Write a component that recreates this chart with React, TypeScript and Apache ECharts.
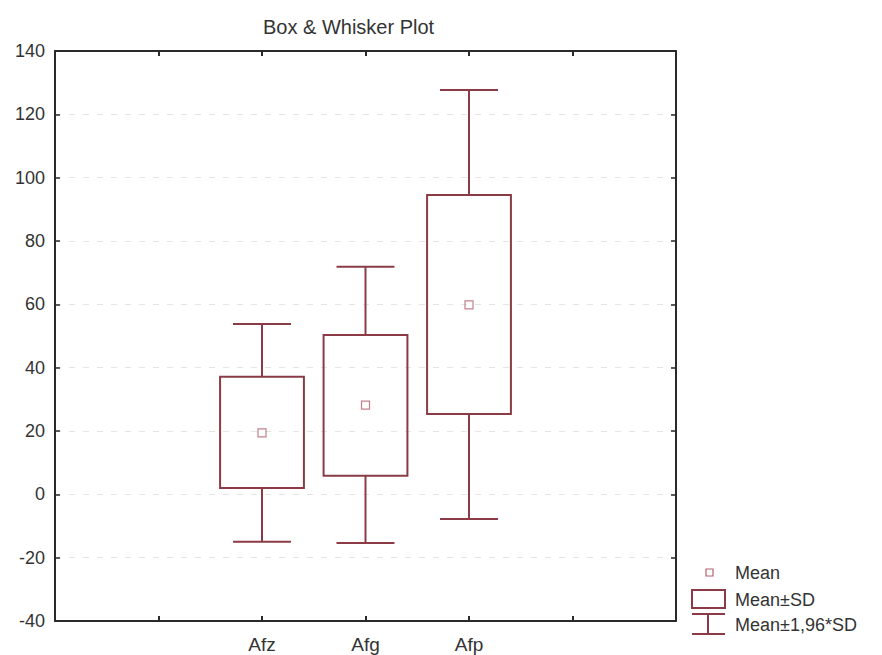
import React, { useEffect, useRef } from "react";
import * as echarts from "echarts";

const categories = ["", "", "Afz", "Afg", "Afp", "", ""];
const groups = ["Afz", "Afg", "Afp"];
const meanValues = [19.4, 28.2, 59.8];
const boxLow = [2.0, 5.9, 25.4];
const boxHigh = [37.1, 50.3, 94.5];
const whiskerLow = [-15.0, -15.4, -7.8];
const whiskerHigh = [53.8, 71.9, 127.7];
const yMin = -40;
const yMax = 140;
const yStep = 20;

const LINE = "#8a3b45";
const MEAN = "#b56270";
const AXIS = "#2a2a2a";
const FONT = "Liberation Sans";

export default function App() {
  const ref = useRef<HTMLDivElement>(null);
  useEffect(() => {
    if (!ref.current) return;
    const chart = echarts.init(ref.current, undefined, { renderer: "svg" });
    const boxData = groups.map((g, i) => [g, whiskerLow[i], boxLow[i], boxHigh[i], whiskerHigh[i]]);
    const meanData = groups.map((g, i) => [g, meanValues[i]]);
    const axisLine = { show: true, onZero: false, lineStyle: { color: AXIS, width: 2 } };
    chart.setOption({
      animation: false,
      backgroundColor: "#ffffff",
      textStyle: { fontFamily: FONT },
      title: {
        text: "Box & Whisker Plot",
        left: 258,
        top: 12,
        textStyle: { fontFamily: FONT, fontSize: 20, fontWeight: "normal", color: "#333" },
      },
      grid: { left: 55, right: 206, top: 51, bottom: 34 },
      xAxis: [
        {
          type: "category",
          data: categories,
          boundaryGap: false,
          position: "bottom",
          axisLine,
          axisTick: { show: true, inside: true, length: 5, lineStyle: { color: AXIS, width: 2 } },
          axisLabel: { fontFamily: FONT, fontSize: 19, color: "#333", margin: 14, interval: 0 },
          splitLine: { show: false },
        },
        {
          type: "category",
          data: categories,
          boundaryGap: false,
          position: "top",
          axisLine,
          axisTick: { show: true, inside: true, length: 5, lineStyle: { color: AXIS, width: 2 } },
          axisLabel: { show: false },
          splitLine: { show: false },
        },
      ],
      yAxis: [
        {
          type: "value",
          min: yMin,
          max: yMax,
          interval: yStep,
          position: "left",
          axisLine,
          axisTick: { show: true, inside: true, length: 5, lineStyle: { color: AXIS, width: 1.5 } },
          axisLabel: { fontFamily: FONT, fontSize: 18, color: "#333", margin: 10 },
          splitLine: { show: true, lineStyle: { color: "#e4e4e4", type: [6, 8], width: 1 } },
        },
        {
          type: "value",
          min: yMin,
          max: yMax,
          interval: yStep,
          position: "right",
          axisLine,
          axisTick: { show: true, inside: true, length: 5, lineStyle: { color: AXIS, width: 1.5 } },
          axisLabel: { show: false },
          splitLine: { show: false },
        },
      ],
      series: [
        {
          type: "custom",
          name: "Mean±SD",
          data: boxData,
          encode: { x: 0, y: [1, 2, 3, 4] },
          z: 3,
          renderItem: (params: any, api: any) => {
            const x = api.value(0);
            const pWL = api.coord([x, api.value(1)]);
            const pBL = api.coord([x, api.value(2)]);
            const pBH = api.coord([x, api.value(3)]);
            const pWH = api.coord([x, api.value(4)]);
            const band = api.size([1, 0])[0];
            const bw = band * 0.81;
            const cw = band * 0.56;
            const cx = pBL[0];
            const style = { stroke: LINE, lineWidth: 2, fill: null };
            return {
              type: "group",
              children: [
                { type: "line", shape: { x1: cx, y1: pBH[1], x2: cx, y2: pWH[1] }, style },
                { type: "line", shape: { x1: cx, y1: pBL[1], x2: cx, y2: pWL[1] }, style },
                { type: "line", shape: { x1: cx - cw / 2, y1: pWH[1], x2: cx + cw / 2, y2: pWH[1] }, style },
                { type: "line", shape: { x1: cx - cw / 2, y1: pWL[1], x2: cx + cw / 2, y2: pWL[1] }, style },
                {
                  type: "rect",
                  shape: { x: cx - bw / 2, y: pBH[1], width: bw, height: pBL[1] - pBH[1] },
                  style: { stroke: LINE, lineWidth: 2, fill: "none" },
                },
              ],
            };
          },
        },
        {
          type: "scatter",
          name: "Mean",
          data: meanData,
          symbol: "rect",
          symbolSize: 8,
          z: 4,
          itemStyle: { color: "rgba(0,0,0,0)", borderColor: MEAN, borderWidth: 1.2 },
        },
      ],
      graphic: [
        {
          type: "rect",
          shape: { x: 706, y: 569, width: 7, height: 7 },
          style: { fill: "none", stroke: MEAN, lineWidth: 1.2 },
        },
        { type: "text", x: 735, y: 573, style: { text: "Mean", font: `18px "${FONT}"`, fill: "#333", verticalAlign: "middle" } },
        {
          type: "rect",
          shape: { x: 692, y: 590, width: 33, height: 18 },
          style: { fill: "none", stroke: LINE, lineWidth: 2 },
        },
        { type: "text", x: 735, y: 600, style: { text: "Mean±SD", font: `18px "${FONT}"`, fill: "#333", verticalAlign: "middle" } },
        { type: "line", shape: { x1: 692, y1: 614, x2: 725, y2: 614 }, style: { stroke: LINE, lineWidth: 2 } },
        { type: "line", shape: { x1: 708, y1: 614, x2: 708, y2: 634 }, style: { stroke: LINE, lineWidth: 2 } },
        { type: "line", shape: { x1: 692, y1: 634, x2: 725, y2: 634 }, style: { stroke: LINE, lineWidth: 2 } },
        { type: "text", x: 735, y: 625, style: { text: "Mean±1,96*SD", font: `18px "${FONT}"`, fill: "#333", verticalAlign: "middle" } },
      ],
    });
    return () => chart.dispose();
  }, []);
  return <div ref={ref} style={{ width: 882, height: 655, position: "absolute", left: 0, top: 0 }} />;
}
